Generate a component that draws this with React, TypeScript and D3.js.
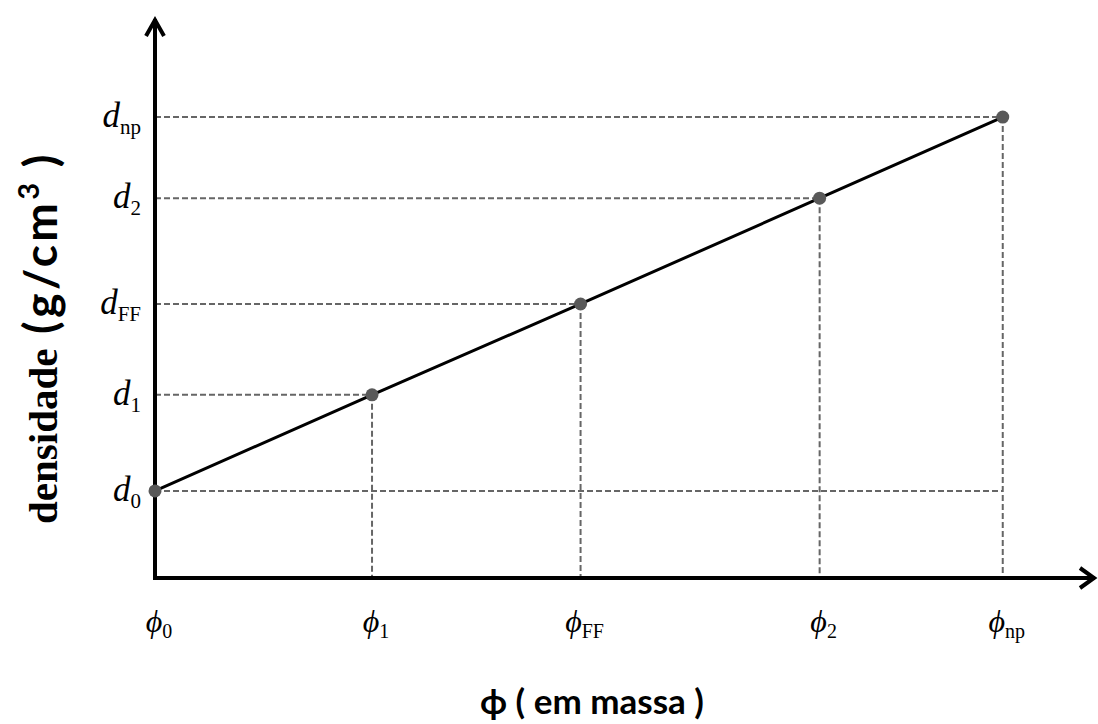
import React from "react";
import * as d3 from "d3";

const phiValues = [0, 0.256, 0.502, 0.784, 1.0];
const densityValues = [0, 0.257, 0.5, 0.783, 1.0];
const xSubs = ["0", "1", "FF", "2", "np"];
const ySubs = ["0", "1", "FF", "2", "np"];
const yTitleSerif = "densidade";
const yTitleSans = "(g/cm";
const yTitleSup = "3";
const yTitleEnd = ")";
const xTitle = "ϕ ( em massa )";

const W = 1098;
const H = 724;

export default function App() {
  const x = d3.scaleLinear().domain([0, 1.11]).range([155, 1096]);
  const y = d3.scaleLinear().domain([-0.233, 1.265]).range([578, 18]);
  const pts = phiValues.map((p, i) => [x(p), y(densityValues[i])] as [number, number]);
  const line = d3.line()(pts) as string;
  const x0 = x(0);
  const yAxis = y(-0.233);
  const dashColor = "#666";
  const serif = "'Liberation Serif', 'Times New Roman', serif";
  const sans = "Lato, 'Open Sans', sans-serif";
  return (
    <svg width={W} height={H} style={{ position: "absolute", left: 0, top: 0, background: "#fff" }}>
      {/* dashed guides */}
      {pts.map(([px, py], i) => (
        <g key={"g" + i} stroke={dashColor} strokeWidth={2} strokeDasharray="6,3" fill="none">
          <line x1={x0} y1={py} x2={i === 0 ? x(phiValues[phiValues.length - 1]) : px} y2={py} />
          <line x1={px} y1={py} x2={px} y2={yAxis} />
        </g>
      ))}
      {/* axes */}
      <line x1={x0} y1={yAxis + 2} x2={x0} y2={y(1.265) + 1} stroke="#000" strokeWidth={4} />
      <line x1={x0 - 2} y1={yAxis} x2={x(1.11) - 1} y2={yAxis} stroke="#000" strokeWidth={4} />
      <polyline
        points={`${x0 - 9},${y(1.265) + 18} ${x0},${y(1.265) + 2} ${x0 + 9},${y(1.265) + 18}`}
        fill="none" stroke="#000" strokeWidth={4} strokeLinejoin="miter"
      />
      <polyline
        points={`${x(1.11) - 16},${yAxis - 10} ${x(1.11) - 2},${yAxis} ${x(1.11) - 16},${yAxis + 10}`}
        fill="none" stroke="#000" strokeWidth={4} strokeLinejoin="miter"
      />
      {/* data line */}
      <path d={line} fill="none" stroke="#000" strokeWidth={3} />
      {pts.map(([px, py], i) => (
        <circle key={"c" + i} cx={px} cy={py} r={6.5} fill="#595959" />
      ))}
      {/* y labels */}
      {densityValues.map((d, i) => (
        <text key={"yl" + i} x={141} y={y(d) + 10} textAnchor="end" style={{ fontFamily: serif }} fill="#000">
          <tspan fontStyle="italic" fontSize={35}>d</tspan>
          <tspan fontSize={21} dy={7}>{ySubs[i]}</tspan>
        </text>
      ))}
      {/* x labels */}
      {phiValues.map((p, i) => (
        <text key={"xl" + i} x={x(p) + 4} y={632} textAnchor="middle" style={{ fontFamily: serif }} fill="#000">
          <tspan fontStyle="italic" fontSize={32}>ϕ</tspan>
          <tspan fontSize={20} dy={6}>{xSubs[i]}</tspan>
        </text>
      ))}
      {/* titles */}
      <text x={592} y={714} textAnchor="middle" style={{ fontFamily: sans }} fontWeight="bold" fontSize={35} fill="#000">
        {xTitle}
      </text>
      <text transform={`translate(57,524) rotate(-90)`} textAnchor="start" fill="#000" fontWeight="bold"
        style={{ fontFamily: serif }} fontSize={41}>
        {yTitleSerif}
      </text>
      <text transform={`translate(57,334) rotate(-90)`} textAnchor="start" fill="#000" fontWeight="bold"
        style={{ fontFamily: sans, letterSpacing: "3.5px" }} fontSize={46}>
        {yTitleSans}
        <tspan fontSize={29} dy={-18}>{yTitleSup}</tspan>
        <tspan dy={18} dx={12}>{yTitleEnd}</tspan>
      </text>
    </svg>
  );
}
